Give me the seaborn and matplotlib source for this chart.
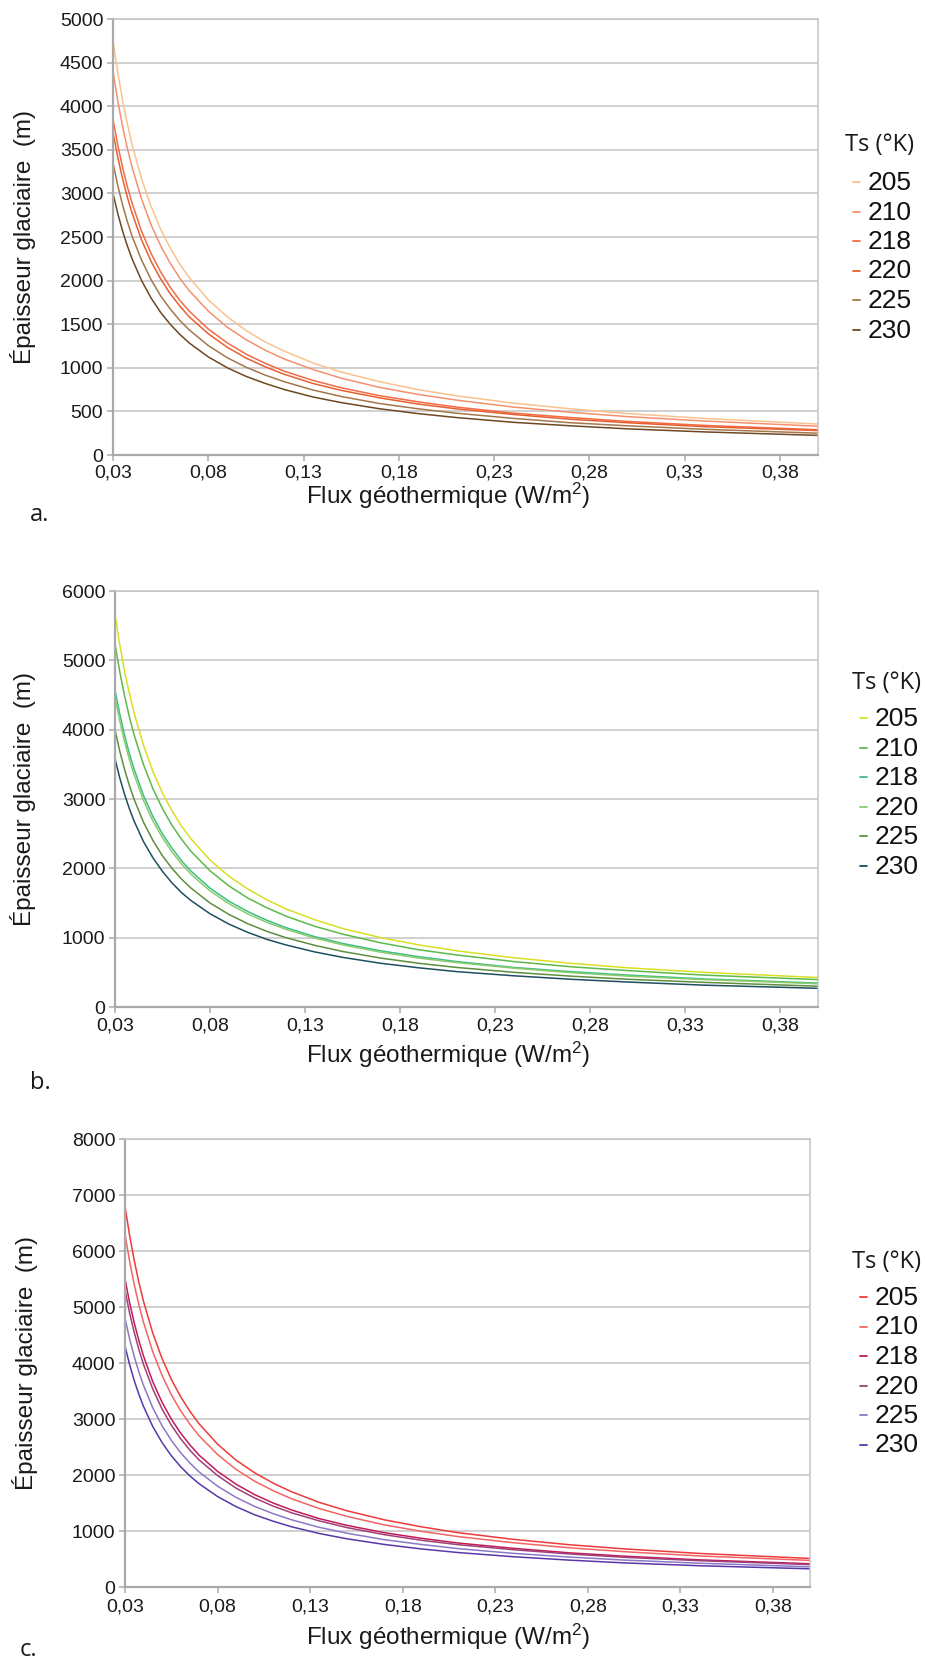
import matplotlib
matplotlib.use("Agg")
import matplotlib.pyplot as plt
import seaborn as sns
import pandas as pd
from matplotlib.lines import Line2D

# flux géothermique (W/m2)
FLUX = [0.03, 0.0325, 0.035, 0.0375, 0.04, 0.045, 0.05, 0.055, 0.06, 0.065,
        0.07, 0.08, 0.09, 0.10, 0.11, 0.12, 0.135, 0.15, 0.17, 0.19,
        0.21, 0.24, 0.27, 0.30, 0.34, 0.40]
TS = ["205", "210", "218", "220", "225", "230"]

# épaisseur glaciaire (m), une ligne par Ts
EP_A = [
    [4750, 4385, 4070, 3800, 3560, 3165, 2850, 2590, 2375, 2190, 2035, 1780, 1585,
     1425, 1295, 1190, 1055, 950, 840, 750, 680, 595, 530, 475, 420, 355],
    [4400, 4060, 3770, 3520, 3300, 2935, 2640, 2400, 2200, 2030, 1885, 1650, 1465,
     1320, 1200, 1100, 980, 880, 775, 695, 630, 550, 490, 440, 390, 330],
    [3850, 3555, 3300, 3080, 2890, 2565, 2310, 2100, 1925, 1775, 1650, 1445, 1285,
     1155, 1050, 960, 855, 770, 680, 610, 550, 480, 430, 385, 340, 290],
    [3700, 3415, 3170, 2960, 2775, 2465, 2220, 2020, 1850, 1710, 1585, 1390, 1235,
     1110, 1010, 925, 820, 740, 655, 585, 530, 465, 410, 370, 325, 280],
    [3350, 3090, 2870, 2680, 2510, 2235, 2010, 1825, 1675, 1545, 1435, 1255, 1115,
     1005, 915, 840, 745, 670, 590, 530, 480, 420, 370, 335, 295, 250],
    [3000, 2770, 2570, 2400, 2250, 2000, 1800, 1635, 1500, 1385, 1285, 1125, 1000,
     900, 820, 750, 665, 600, 530, 475, 430, 375, 335, 300, 265, 225],
]
EP_B = [
    [5660, 5225, 4850, 4530, 4245, 3775, 3395, 3085, 2830, 2610, 2425, 2120, 1885,
     1700, 1545, 1415, 1260, 1130, 1000, 895, 810, 710, 630, 565, 500, 425],
    [5240, 4835, 4490, 4190, 3930, 3495, 3145, 2860, 2620, 2420, 2245, 1965, 1745,
     1570, 1430, 1310, 1165, 1050, 925, 825, 750, 655, 580, 525, 460, 395],
    [4575, 4225, 3925, 3660, 3435, 3050, 2745, 2495, 2290, 2110, 1960, 1715, 1525,
     1375, 1250, 1145, 1015, 915, 810, 725, 655, 570, 510, 460, 405, 345],
    [4470, 4125, 3830, 3575, 3355, 2980, 2680, 2440, 2235, 2065, 1915, 1675, 1490,
     1340, 1220, 1120, 995, 895, 790, 705, 640, 560, 495, 445, 395, 335],
    [4000, 3690, 3430, 3200, 3000, 2665, 2400, 2180, 2000, 1845, 1715, 1500, 1335,
     1200, 1090, 1000, 890, 800, 705, 630, 570, 500, 445, 400, 355, 300],
    [3580, 3305, 3070, 2865, 2685, 2385, 2150, 1955, 1790, 1650, 1535, 1345, 1195,
     1075, 975, 895, 795, 715, 630, 565, 510, 450, 400, 360, 315, 270],
]
EP_C = [
    [6800, 6275, 5830, 5440, 5100, 4535, 4080, 3710, 3400, 3140, 2915, 2550, 2265,
     2040, 1855, 1700, 1510, 1360, 1200, 1075, 970, 850, 755, 680, 600, 510],
    [6300, 5815, 5400, 5040, 4725, 4200, 3780, 3435, 3150, 2910, 2700, 2365, 2100,
     1890, 1720, 1575, 1400, 1260, 1110, 995, 900, 790, 700, 630, 555, 475],
    [5500, 5075, 4715, 4400, 4125, 3665, 3300, 3000, 2750, 2540, 2355, 2065, 1835,
     1650, 1500, 1375, 1220, 1100, 970, 870, 785, 690, 610, 550, 485, 415],
    [5300, 4890, 4545, 4240, 3975, 3535, 3180, 2890, 2650, 2445, 2270, 1990, 1765,
     1590, 1445, 1325, 1180, 1060, 935, 835, 755, 665, 590, 530, 470, 400],
    [4800, 4430, 4115, 3840, 3600, 3200, 2880, 2620, 2400, 2215, 2055, 1800, 1600,
     1440, 1310, 1200, 1065, 960, 845, 760, 685, 600, 535, 480, 425, 360],
    [4300, 3970, 3685, 3440, 3225, 2865, 2580, 2345, 2150, 1985, 1845, 1615, 1435,
     1290, 1175, 1075, 955, 860, 760, 680, 615, 540, 480, 430, 380, 325],
]

COLORS_A = ["#FAC28E", "#F5906E", "#F26A46", "#E6602F", "#A4774B", "#6E4822"]
COLORS_B = ["#D8E024", "#5CB94A", "#3CBF84", "#8DCB6B", "#5E8E3E", "#1E4F5F"]
COLORS_C = ["#EE3A3A", "#F26464", "#C21A55", "#9E3F7A", "#8B78C6", "#5A37A8"]

X_TICKS = [0.03, 0.08, 0.13, 0.18, 0.23, 0.28, 0.33, 0.38]

W, H = 925, 1659

sns.set_style("white")
plt.rcParams["font.family"] = ["Liberation Sans", "DejaVu Sans"]
plt.rcParams["mathtext.fontset"] = "custom"
plt.rcParams["mathtext.rm"] = "Liberation Sans"
plt.rcParams["mathtext.it"] = "Liberation Sans:italic"

fig = plt.figure(figsize=(W / 100, H / 100), dpi=100)


def fx(px):
    return px / W


def fy(py):
    return 1 - py / H


# position des panneaux en pixels: (gauche, haut, droite, bas)
panels = [
    dict(ep=EP_A, colors=COLORS_A, box=(113, 19, 818, 455), ymax=5000, ystep=500,
         xpad=3.0, letter="a.", letter_x=30, letter_y=515, xlab_y=504, ylab_x=23,
         leg_x=845, leg_title_y=145, leg_y0=183),
    dict(ep=EP_B, colors=COLORS_B, box=(115, 591, 818, 1007), ymax=6000, ystep=1000,
         xpad=3.6, letter="b.", letter_x=30, letter_y=1083, xlab_y=1063, ylab_x=23,
         leg_x=852, leg_title_y=683, leg_y0=719),
    dict(ep=EP_C, colors=COLORS_C, box=(125, 1139, 810, 1587), ymax=8000, ystep=1000,
         xpad=4.3, letter="c.", letter_x=20, letter_y=1650, xlab_y=1645, ylab_x=25,
         leg_x=852, leg_title_y=1262, leg_y0=1298),
]

for p in panels:
    l, t, r, b = p["box"]
    ax = fig.add_axes([fx(l), fy(b), (r - l) / W, (b - t) / H])

    df = pd.DataFrame({
        "flux": FLUX * len(TS),
        "ep": [v for row in p["ep"] for v in row],
        "Ts": [ts for ts in TS for _ in FLUX],
    })
    sns.lineplot(data=df, x="flux", y="ep", hue="Ts",
                 palette=dict(zip(TS, p["colors"])), linewidth=1.1,
                 legend=False, ax=ax)

    ax.set_xlim(0.03, 0.40)
    ax.set_ylim(0, p["ymax"])
    ax.set_xticks(X_TICKS)
    ax.set_xticklabels([f"{v:.2f}".replace(".", ",") for v in X_TICKS])
    yt = list(range(0, p["ymax"] + 1, p["ystep"]))
    ax.set_yticks(yt)
    ax.set_yticklabels([str(v) for v in yt])
    ax.set_xlabel("")
    ax.set_ylabel("")

    ax.yaxis.grid(True, color="#C4C4C4", linewidth=1.1)
    ax.xaxis.grid(False)
    ax.set_axisbelow(True)
    for side in ["left", "bottom"]:
        ax.spines[side].set_color("#A9A9A9")
        ax.spines[side].set_linewidth(1.6)
    ax.spines["right"].set_color("#C4C4C4")
    ax.spines["right"].set_linewidth(1.1)
    ax.spines["top"].set_color("#C4C4C4")
    ax.spines["top"].set_linewidth(1.1)

    ax.tick_params(axis="both", bottom=True, left=True, direction="out",
                   length=4, width=1.1, color="#A9A9A9",
                   labelsize=14, labelcolor="#1a1a1a")
    ax.tick_params(axis="y", pad=3.0)
    ax.tick_params(axis="x", pad=p["xpad"])

    fig.text(fx(p["ylab_x"]), fy((t + b) / 2), "Épaisseur glaciaire  (m)",
             rotation=90, ha="center", va="center", fontsize=17.5, color="#1a1a1a")
    fig.text(fx(448), fy(p["xlab_y"]), "Flux géothermique (W/m$^2$)",
             ha="center", va="baseline", fontsize=17.5, color="#1a1a1a")
    fig.text(fx(p["letter_x"]), fy(p["letter_y"]), p["letter"], ha="left", va="center",
             fontsize=17, family=["Open Sans", "DejaVu Sans"], color="#1a1a1a")

    # légende
    fig.text(fx(p["leg_x"]), fy(p["leg_title_y"]), "Ts (°K)", ha="left", va="center",
             fontsize=17, family=["Open Sans", "DejaVu Sans"], color="#1a1a1a")
    for i, (ts, c) in enumerate(zip(TS, p["colors"])):
        yy = p["leg_y0"] + 29.5 * i
        fig.add_artist(Line2D([fx(p["leg_x"] + 8), fx(p["leg_x"] + 15)],
                              [fy(yy - 1), fy(yy - 1)], color=c, linewidth=1.3))
        fig.text(fx(p["leg_x"] + 23), fy(yy), ts, ha="left", va="center",
                 fontsize=19, color="#111111")

fig.savefig("out.png", dpi=100)
